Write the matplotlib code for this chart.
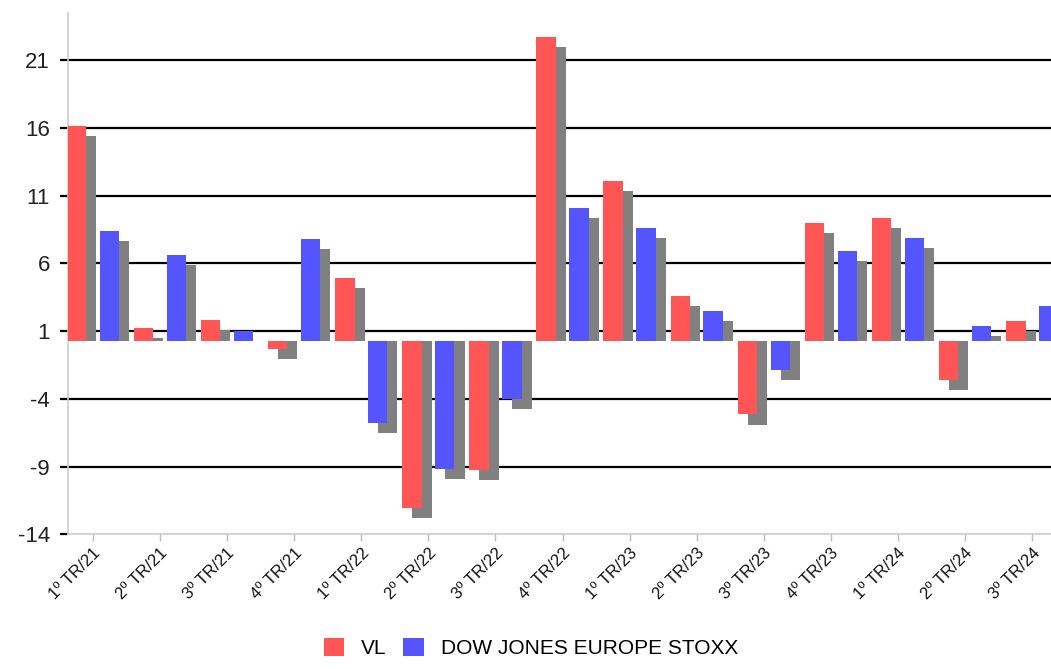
import numpy as np
import matplotlib.pyplot as plt

plt.rcParams['font.family'] = ['Liberation Sans', 'DejaVu Sans']

quarters = ['1º TR/21', '2º TR/21', '3º TR/21', '4º TR/21',
            '1º TR/22', '2º TR/22', '3º TR/22', '4º TR/22',
            '1º TR/23', '2º TR/23', '3º TR/23', '4º TR/23',
            '1º TR/24', '2º TR/24', '3º TR/24']
vl = [15.9, 0.99, 1.6, -0.55, 4.65, -12.34, -9.51, 22.5,
      11.85, 3.37, -5.41, 8.73, 9.1, -2.83, 1.47]
stoxx = [8.16, 6.39, 0.79, 7.55, -6.02, -9.46, -4.25, 9.84,
         8.36, 2.26, -2.09, 6.69, 7.62, 1.11, 2.58]
ytick_labels = [-14, -9, -4, 1, 6, 11, 16, 21]

# the value axis labels sit a little above the zero line of the bars
label_offset = 0.26

fig = plt.figure(figsize=(10.51, 6.69), dpi=100)
ax = fig.add_axes([0.0647, 0.2013, 0.9353, 0.7793])

x = np.arange(len(quarters))
w = 0.29
off = 0.245
sdx, sdy = 0.15, 0.74   # drop shadow offset (right / down)

vl_a = np.array(vl)
st_a = np.array(stoxx)

# shadows
ax.bar(x - off + sdx, vl_a - sdy, w, color='#808080', zorder=2)
ax.bar(x + off + sdx, st_a - sdy, w, color='#808080', zorder=2)
# bars
ax.bar(x - off, vl_a, w, color='#ff5555', zorder=3, label='VL')
ax.bar(x + off, st_a, w, color='#5555ff', zorder=3, label='DOW JONES EUROPE STOXX')

ypos = np.array(ytick_labels) - label_offset
for yy in ypos[1:]:
    ax.axhline(yy, color='black', lw=1.6, zorder=1)

ax.set_ylim(-14.26, 24.24)
ax.set_xlim(-0.37, 14.28)
ax.set_yticks(ypos)
ax.set_yticklabels([str(v) for v in ytick_labels], fontsize=16, color='#222222')
ax.set_xticks(x)
ax.set_xticklabels(quarters, rotation=45, ha='right', rotation_mode='anchor',
                   fontsize=12, color='#111111')

ax.tick_params(axis='y', length=6, width=1.6, color='black', pad=7)
ax.tick_params(axis='x', length=5, width=1, color='#bbbbbb', pad=3)

for s in ['top', 'right']:
    ax.spines[s].set_visible(False)
for s in ['left', 'bottom']:
    ax.spines[s].set_color('#cccccc')
    ax.spines[s].set_linewidth(1.2)

fig.legend(loc='lower center', bbox_to_anchor=(0.505, -0.012), ncol=2, frameon=False,
           fontsize=15, handlelength=1.0, handleheight=1.0, handletextpad=0.8,
           columnspacing=0.8)

plt.savefig('out.png', dpi=100)
